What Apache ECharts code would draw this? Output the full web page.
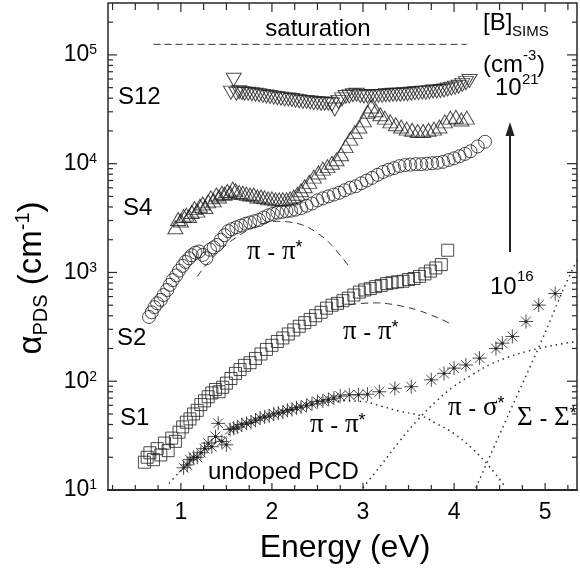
<!DOCTYPE html>
<html><head><meta charset="utf-8">
<script src="https://cdn.jsdelivr.net/npm/echarts@6/dist/echarts.min.js"></script>
<style>html,body{margin:0;padding:0;background:#fff}#c{width:580px;height:573px}</style>
</head><body><div id="c"></div>
<script>
// ---------- data (Energy eV, alpha cm^-1) ----------
const s12 = [[1.55,45000],[1.58,59000],[1.61,44000],[1.64,45500],[1.67,44500],[1.70,44000],[1.74,44000],[1.78,43500],[1.82,43000],[1.86,42500],[1.90,42000],[1.94,41500],[1.98,41000],[2.02,40500],[2.06,40000],[2.10,39500],[2.14,39000],[2.18,39000],[2.22,38500],[2.26,38000],[2.30,37500],[2.34,37000],[2.38,37000],[2.42,36500],[2.46,36000],[2.50,36000],[2.54,35500],[2.58,35500],[2.62,35500],[2.66,35000],[2.69,31500],[2.73,37000],[2.77,39000],[2.81,41000],[2.85,41500],[2.89,42500],[2.93,43000],[2.97,42000],[3.01,41500],[3.05,41500],[3.09,42000],[3.13,41500],[3.17,42000],[3.21,42000],[3.25,42500],[3.29,42500],[3.33,43000],[3.37,43000],[3.41,43000],[3.45,43500],[3.49,43500],[3.53,44000],[3.57,44500],[3.61,44500],[3.65,45000],[3.69,45000],[3.73,45500],[3.77,46000],[3.81,46000],[3.85,46500],[3.89,47000],[3.93,48000],[3.97,49000],[4.01,50000],[4.05,51000],[4.09,53000],[4.13,55000],[4.17,57500]];
const s4 = [[0.94,2600],[0.97,3100],[1.00,3000],[1.03,3300],[1.06,3400],[1.09,3300],[1.12,3600],[1.15,3900],[1.18,3700],[1.21,4100],[1.24,4300],[1.27,4000],[1.30,4500],[1.33,4900],[1.36,4600],[1.39,5200],[1.42,5000],[1.45,5400],[1.48,5300],[1.51,5600],[1.54,5400],[1.57,5900],[1.60,5700],[1.64,5500],[1.68,5400],[1.72,5300],[1.76,5200],[1.80,5200],[1.84,5000],[1.88,5000],[1.92,4900],[1.96,4800],[2.00,4800],[2.04,4700],[2.08,4700],[2.12,4700],[2.16,4700],[2.20,4800],[2.24,5000],[2.28,5300],[2.32,5700],[2.36,6200],[2.41,6800],[2.46,7600],[2.51,8300],[2.56,9000],[2.61,9500],[2.66,10200],[2.71,11000],[2.76,12200],[2.81,14500],[2.86,17000],[2.91,19500],[2.96,22000],[3.01,25000],[3.05,30000],[3.09,33500],[3.14,31000],[3.19,28500],[3.24,26500],[3.30,24500],[3.36,23000],[3.42,22000],[3.48,21000],[3.54,20500],[3.60,20000],[3.66,20000],[3.72,20500],[3.78,21000],[3.84,22000],[3.90,24500],[3.96,26500],[4.02,27000],[4.08,25500],[4.14,26500]];
const s2 = [[0.65,390],[0.68,430],[0.71,480],[0.74,520],[0.78,560],[0.81,620],[0.85,690],[0.88,770],[0.91,850],[0.95,940],[0.98,1040],[1.02,1150],[1.05,1250],[1.09,1350],[1.12,1440],[1.16,1520],[1.20,1560],[1.24,1450],[1.28,1350],[1.32,1620],[1.36,1700],[1.40,1790],[1.44,2000],[1.48,2200],[1.52,2400],[1.56,2500],[1.61,2600],[1.66,2700],[1.71,2800],[1.76,2880],[1.81,2960],[1.86,3040],[1.91,3200],[1.96,3350],[2.01,3450],[2.06,3550],[2.11,3600],[2.16,3660],[2.21,3700],[2.26,3780],[2.32,3900],[2.38,4100],[2.44,4300],[2.50,4600],[2.56,4800],[2.62,5000],[2.68,5200],[2.74,5400],[2.80,5700],[2.86,6000],[2.92,6200],[2.98,6600],[3.04,7000],[3.10,7400],[3.16,7900],[3.22,8400],[3.28,8800],[3.34,9100],[3.40,9500],[3.46,9700],[3.52,9800],[3.58,9900],[3.64,9900],[3.70,10000],[3.76,10100],[3.82,10200],[3.88,10400],[3.94,10800],[4.00,11200],[4.06,11700],[4.12,12300],[4.18,13000],[4.26,14400],[4.34,15900]];
const s1 = [[0.60,18],[0.63,20],[0.66,22],[0.70,19],[0.74,24],[0.78,21],[0.82,27],[0.86,23],[0.90,30],[0.94,28],[0.98,34],[1.02,38],[1.06,42],[1.10,45],[1.14,50],[1.18,54],[1.22,61],[1.26,66],[1.30,72],[1.34,78],[1.38,84],[1.42,80],[1.46,88],[1.50,96],[1.55,106],[1.60,118],[1.65,128],[1.70,140],[1.76,148],[1.82,162],[1.88,178],[1.94,196],[2.00,214],[2.06,232],[2.12,250],[2.18,272],[2.24,296],[2.30,320],[2.36,345],[2.42,370],[2.48,400],[2.54,430],[2.60,470],[2.66,500],[2.72,520],[2.78,550],[2.84,580],[2.90,620],[2.96,660],[3.02,690],[3.08,710],[3.14,740],[3.20,760],[3.26,790],[3.32,805],[3.38,820],[3.44,830],[3.50,860],[3.56,880],[3.62,920],[3.68,970],[3.74,1030],[3.80,1100],[3.86,1180],[3.93,1600]];
const undoped = [[1.03,16],[1.07,17],[1.10,19],[1.14,20],[1.18,20],[1.22,22],[1.26,24],[1.30,27],[1.34,25],[1.38,31],[1.41,41],[1.45,28],[1.50,26],[1.54,36],[1.58,37],[1.62,38],[1.67,40],[1.72,41],[1.77,42],[1.82,44],[1.87,46],[1.92,47],[1.97,48],[2.02,50],[2.07,51],[2.12,52],[2.17,54],[2.22,55],[2.27,57],[2.32,58],[2.38,60],[2.44,62],[2.50,65],[2.56,66],[2.62,68],[2.68,70],[2.75,73],[2.85,75],[2.95,75],[3.05,76],[3.18,80],[3.35,86],[3.53,89],[3.75,103],[3.89,118],[4.00,132],[4.13,141],[4.28,163],[4.46,200],[4.53,224],[4.64,258],[4.79,354],[4.93,501],[5.11,640]];
// fitted components / guides
const saturation = [[0.70,125000],[4.14,125000]];
const fitS2 = [[1.18,920],[1.30,1230],[1.45,1650],[1.60,2080],[1.75,2480],[1.90,2800],[2.05,2950],[2.20,2900],[2.35,2700],[2.50,2300],[2.65,1800],[2.86,1100]];
const fitS1 = [[2.72,480],[2.85,505],[3.00,520],[3.15,525],[3.30,512],[3.45,485],[3.60,450],[3.75,405],[3.90,358],[3.98,330]];
const fitPiPi = [[0.87,11.5],[1.00,15],[1.20,21],[1.40,28],[1.60,35],[1.80,42],[2.00,49],[2.20,55],[2.40,60],[2.60,64],[2.80,66],[3.00,65],[3.20,59],[3.40,53],[3.64,48],[3.80,41],[4.00,33],[4.20,24],[4.40,16],[4.55,11]];
const fitPiSigma = [[3.00,10.5],[3.20,17],[3.40,28],[3.60,44],[3.80,65],[4.00,90],[4.20,115],[4.40,143],[4.60,167],[4.80,188],[5.00,206],[5.20,222],[5.35,232]];
const fitSigma = [[4.24,10.5],[4.40,21],[4.60,50],[4.80,117],[5.00,280],[5.20,700],[5.35,1300]];
// axes
const X_MIN = 0.2, X_MAX = 5.35, Y_MIN = 10, Y_MAX = 300000;
const xMajorTicks = [1,2,3,4,5];
const xMinorTicks = [0.25,0.5,0.75,1.25,1.5,1.75,2.25,2.5,2.75,3.25,3.5,3.75,4.25,4.5,4.75,5.25];
const yMajorTicks = [10,100,1000,10000,100000];
const yMinorTicks = [20,30,40,50,60,70,80,90,200,300,400,500,600,700,800,900,2000,3000,4000,5000,6000,7000,8000,9000,20000,30000,40000,50000,60000,70000,80000,90000,200000];

const FONT = '"Liberation Sans", Arial, sans-serif';
const SERIF = '"Liberation Serif", "Times New Roman", serif';
const INK = '#2a2a2a';
const MARK = '#1e1e1e';

function tickSeries(ticks, isX, major){
  const data = ticks.map(v => isX ? [v, Y_MIN] : [X_MIN, v]);
  return {
    type:'custom', data, clip:false, silent:true, z:5,
    renderItem(params, api){
      const cs = params.coordSys;
      const p = api.coord([api.value(0), api.value(1)]);
      const st = {stroke:INK, lineWidth:1.2};
      const ch = [];
      if (isX){
        const lb = major?7:5, lt = major?9:7, b = cs.y+cs.height, t = cs.y;
        ch.push({type:'line', shape:{x1:p[0],y1:b,x2:p[0],y2:b-lb}, style:st});
        ch.push({type:'line', shape:{x1:p[0],y1:t,x2:p[0],y2:t+lt}, style:st});
      } else {
        const ll = major?9:5, lr = major?10:5, l = cs.x, r = cs.x+cs.width;
        ch.push({type:'line', shape:{x1:l,y1:p[1],x2:l+ll,y2:p[1]}, style:st});
        ch.push({type:'line', shape:{x1:r,y1:p[1],x2:r-lr,y2:p[1]}, style:st});
      }
      return {type:'group', children:ch};
    }
  };
}
function scatter(data, symbol, size, extra){
  return Object.assign({type:'scatter', data, symbol, symbolSize:size, z:3,
    itemStyle:{color:'rgba(0,0,0,0)', borderColor:MARK, borderWidth:1}}, extra||{});
}
function curve(data, dash, width, smooth){
  return {type:'line', data, symbol:'none', smooth:smooth, z:2,
    lineStyle:{color:'#333', width:width, type:dash}};
}
const asterisk = 'path://M5 0L5 10M0 5L10 5M1.5 1.5L8.5 8.5M1.5 8.5L8.5 1.5';

function T(x, y, text, size, opt){
  opt = opt || {};
  return {type:'text', x, y, z:50, silent:true, rotation: opt.rotation || 0,
    style:{text, fontSize:size, fontFamily: opt.font || FONT, fill:'#000',
      align: opt.align || 'left', verticalAlign:'middle', rich: opt.rich}};
}
const greekRich = {
  g:{fontSize:27, fontFamily:SERIF, lineHeight:26, verticalAlign:'bottom'},
  m:{fontSize:24, fontFamily:FONT, lineHeight:26, verticalAlign:'bottom'},
  s:{fontSize:18, fontFamily:FONT, lineHeight:14, verticalAlign:'top'}
};
function greek(x, y, a, b){ return T(x, y, '{g|'+a+'}{m| - }{g|'+b+'}{s|*}', 24, {rich:greekRich}); }

const chart = echarts.init(document.getElementById('c'), null, {renderer:'canvas'});
chart.setOption({
  animation:false,
  backgroundColor:'#fff',
  grid:{left:108, top:3, width:471, height:487, show:true, borderColor:INK, borderWidth:1.5, backgroundColor:'rgba(0,0,0,0)'},
  xAxis:{type:'value', min:X_MIN, max:X_MAX, interval:0.2,
    axisLine:{show:true, lineStyle:{color:INK, width:2}}, axisTick:{show:false}, splitLine:{show:false},
    axisLabel:{fontSize:23, fontFamily:FONT, color:'#000', margin:11,
      formatter:v => Math.abs(v-Math.round(v))<1e-6 ? String(Math.round(v)) : ''}},
  yAxis:{type:'log', logBase:10, min:Y_MIN, max:Y_MAX,
    axisLine:{show:false}, axisTick:{show:false}, splitLine:{show:false},
    axisLabel:{margin:11, color:'#000',
      formatter:v => { const l = Math.log10(v), e = Math.round(l); return Math.abs(l-e)<1e-6 ? '{b|10}{s|'+e+'}' : ''; },
      rich:{b:{fontSize:23, fontFamily:FONT, lineHeight:23, color:'#000'},
            s:{fontSize:14, fontFamily:FONT, lineHeight:14, verticalAlign:'top', color:'#000'}}}},
  series:[
    curve(saturation, [7,4], 1, false),
    curve(fitS2, [7,5], 1, 0.4),
    curve(fitS1, [7,5], 1, 0.4),
    curve(fitPiPi, [1.5,4], 1.5, 0.4),
    curve(fitPiSigma, [1.5,4], 1.5, 0.4),
    curve(fitSigma, [1.5,4], 1.5, 0.3),
    scatter(s1, 'rect', 12),
    scatter(s2, 'circle', 13),
    scatter(s4, 'triangle', [15,13]),
    scatter(s12, 'triangle', [15,13], {symbolRotate:180}),
    scatter(undoped, asterisk, 14),
    scatter(undoped, 'circle', 3, {itemStyle:{color:'#222'}}),
    tickSeries(xMajorTicks, true, true),
    tickSeries(xMinorTicks, true, false),
    tickSeries(yMajorTicks, false, true),
    tickSeries(yMinorTicks, false, false)
  ],
  graphic:[
    T(318, 29, 'saturation', 24, {align:'center'}),
    T(118, 97, 'S12', 24),
    T(123, 208, 'S4', 24),
    T(117, 338, 'S2', 24),
    T(120, 418, 'S1', 24),
    T(208, 472, 'undoped PCD', 24),
    greek(247, 252, 'π', 'π'),
    greek(343, 332, 'π', 'π'),
    greek(310, 425, 'π', 'π'),
    greek(448, 408, 'π', 'σ'),
    greek(517, 418, 'Σ', 'Σ'),
    T(483, 23, '[B]', 24),
    T(512, 32, 'SIMS', 15),
    T(483, 65, '(cm', 24),
    T(523, 56, '-3', 15),
    T(537, 65, ')', 24),
    T(495, 88, '10', 24),
    T(522, 80, '21', 15),
    T(490, 287, '10', 24),
    T(517, 277, '16', 15),
    {type:'line', silent:true, z:40, shape:{x1:510, y1:252, x2:510, y2:134}, style:{stroke:'#222', lineWidth:2}},
    {type:'polygon', silent:true, z:40, shape:{points:[[510,122],[505.5,136],[514.5,136]]}, style:{fill:'#222'}},
    T(345, 548, 'Energy (eV)', 32, {align:'center'}),
    T(32, 278, '{a|α}{b|PDS}{c| (cm}{d|-1}{c|)}', 33, {align:'center', rotation:Math.PI/2,
      rich:{a:{fontSize:33, fontFamily:FONT, lineHeight:38}, b:{fontSize:20, fontFamily:FONT, lineHeight:20, verticalAlign:'bottom'},
            c:{fontSize:33, fontFamily:FONT, lineHeight:38}, d:{fontSize:20, fontFamily:FONT, lineHeight:20, verticalAlign:'top'}}})
  ]
});
</script></body></html>
